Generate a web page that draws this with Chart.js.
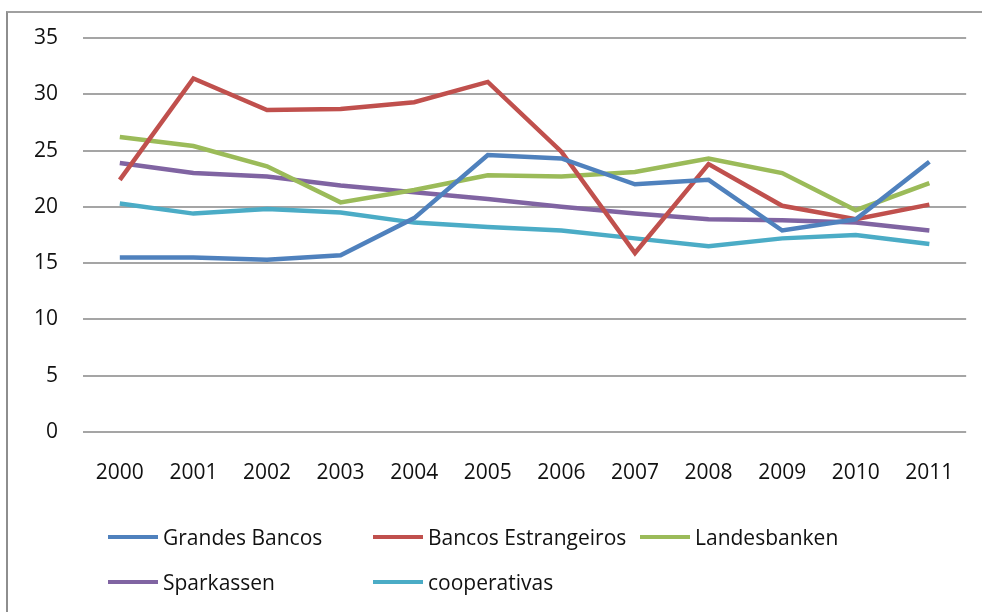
<!DOCTYPE html>
<html>
<head>
<meta charset="utf-8">
<script src="https://cdn.jsdelivr.net/npm/chart.js@4/dist/chart.umd.min.js"></script>
<style>
  html, body { margin: 0; padding: 0; background: #fff; }
  body { width: 982px; height: 612px; position: relative; overflow: hidden; font-family: "Open Sans", sans-serif; }
  .frame { position: absolute; left: 6px; top: 11px; width: 1000px; height: 620px; border-left: 2px solid #8e8e8e; border-top: 2px solid #a0a0a0; box-sizing: border-box; }
  .chart-wrap { position: absolute; left: 0; top: 0; width: 982px; height: 612px; }
  .legend { position: absolute; left: 0; top: 0; width: 982px; height: 612px; pointer-events: none; }
  .legend-item { position: absolute; display: flex; align-items: center; font-size: 21px; color: #111; white-space: nowrap; }
  .legend-item .swatch { width: 50px; height: 4px; margin-right: 5px; }
</style>
</head>
<body>
<div class="frame"></div>
<div class="chart-wrap"><canvas id="chart" width="982" height="612"></canvas></div>
<div class="legend" id="legend"></div>
<script>
  const years = ['2000', '2001', '2002', '2003', '2004', '2005', '2006', '2007', '2008', '2009', '2010', '2011'];

  const grandesBancos      = [15.5, 15.5, 15.3, 15.7, 19.0, 24.6, 24.3, 22.0, 22.4, 17.9, 18.9, 24.0];
  const bancosEstrangeiros = [22.4, 31.4, 28.6, 28.7, 29.3, 31.1, 24.9, 15.9, 23.8, 20.1, 18.9, 20.2];
  const landesbanken       = [26.2, 25.4, 23.6, 20.4, 21.5, 22.8, 22.7, 23.1, 24.3, 23.0, 19.7, 22.1];
  const sparkassen         = [23.9, 23.0, 22.7, 21.9, 21.3, 20.7, 20.0, 19.4, 18.9, 18.8, 18.6, 17.9];
  const cooperativas       = [20.3, 19.4, 19.8, 19.5, 18.6, 18.2, 17.9, 17.2, 16.5, 17.2, 17.5, 16.7];

  const seriesNames = ['Grandes Bancos', 'Bancos Estrangeiros', 'Landesbanken', 'Sparkassen', 'cooperativas'];
  const seriesColors = ['#4f81bd', '#c0504d', '#9bbb59', '#8064a2', '#4bacc6'];
  const seriesData = [grandesBancos, bancosEstrangeiros, landesbanken, sparkassen, cooperativas];

  const tickFont = { family: '"Open Sans", sans-serif', size: 21 };

  new Chart(document.getElementById('chart'), {
    type: 'line',
    data: {
      labels: years,
      datasets: seriesNames.map((name, i) => ({
        label: name,
        data: seriesData[i],
        borderColor: seriesColors[i],
        backgroundColor: seriesColors[i],
        borderWidth: 4.5,
        pointRadius: 0,
        tension: 0,
        fill: false,
      })),
    },
    options: {
      responsive: false,
      animation: false,
      layout: { padding: { left: 0, top: 38, right: 15, bottom: 120 } },
      plugins: {
        legend: { display: false },
        tooltip: { enabled: false },
      },
      scales: {
        x: {
          offset: true,
          grid: { display: false, drawTicks: false },
          border: { display: false },
          ticks: { color: '#111', font: tickFont, padding: 28, maxRotation: 0 },
          afterFit: (scale) => { scale.height = 60; },
        },
        y: {
          min: 0,
          max: 35,
          ticks: { stepSize: 5, color: '#111', font: tickFont, padding: 25 },
          grid: { color: '#a5a5a5', lineWidth: 2, drawTicks: false },
          border: { display: false },
          afterFit: (scale) => { scale.width = 83; },
        },
      },
    },
  });

  // legend laid out in three columns, two rows
  const legendBox = document.getElementById('legend');
  const cols = [108, 373, 640];
  const rows = [537, 582];
  seriesNames.forEach((name, i) => {
    const item = document.createElement('div');
    item.className = 'legend-item';
    item.style.left = cols[i % 3] + 'px';
    item.style.top = (rows[Math.floor(i / 3)] - 14) + 'px';
    item.style.height = '28px';

    const swatch = document.createElement('span');
    swatch.className = 'swatch';
    swatch.style.background = seriesColors[i];

    const label = document.createElement('span');
    label.textContent = name;

    item.appendChild(swatch);
    item.appendChild(label);
    legendBox.appendChild(item);
  });
</script>
</body>
</html>
